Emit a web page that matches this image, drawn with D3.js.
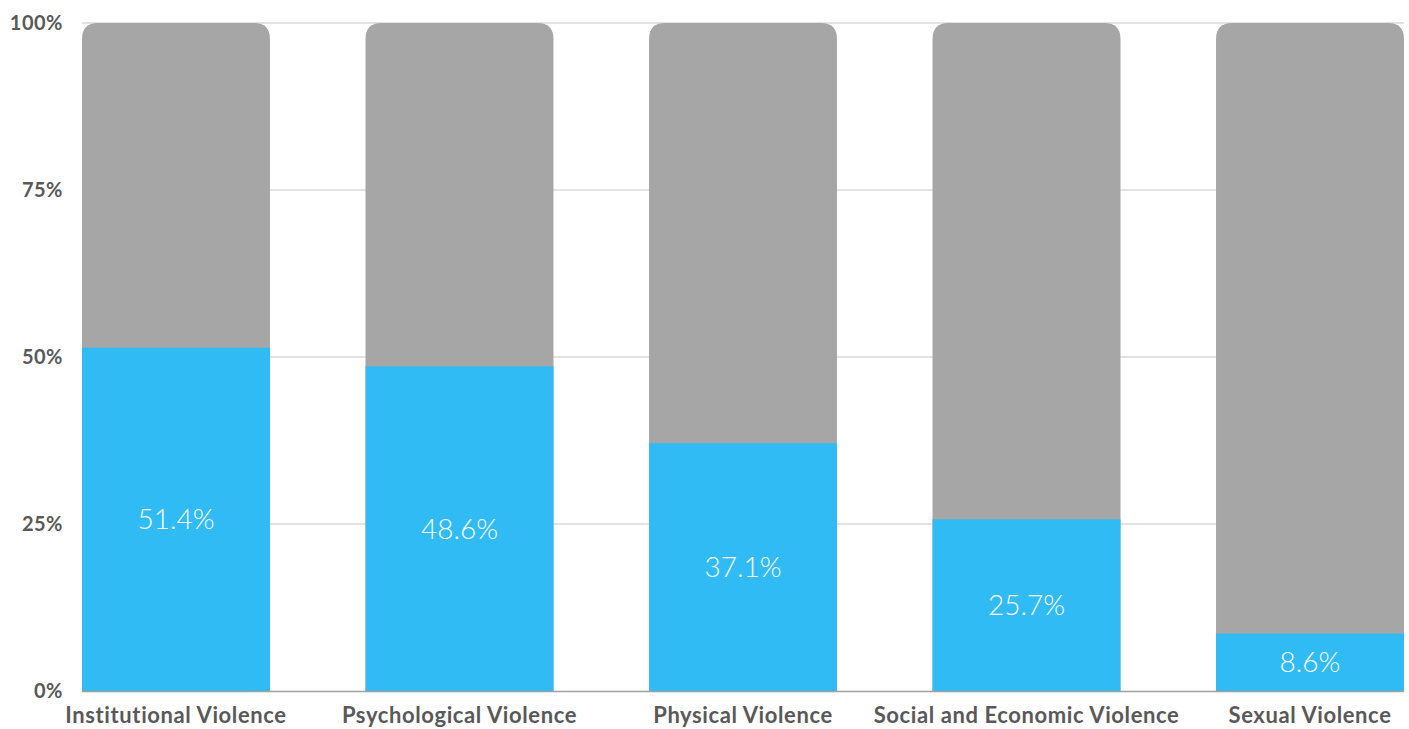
<!DOCTYPE html>
<html>
<head>
<meta charset="utf-8">
<script src="https://cdn.jsdelivr.net/npm/d3@7"></script>
<style>
  body { margin: 0; background: #fff; }
  text { font-family: Lato, "Open Sans", sans-serif; }
</style>
</head>
<body>
<script>
// Data
const categories = ["Institutional Violence", "Psychological Violence", "Physical Violence", "Social and Economic Violence", "Sexual Violence"];
const values = [51.4, 48.6, 37.1, 25.7, 8.6];
const yTicks = [0, 25, 50, 75, 100];

// Canvas setup
const canvasWidth = 1409;
const canvasHeight = 729;

const svg = d3.select('body')
    .append('svg')
    .attr('width', canvasWidth)
    .attr('height', canvasHeight);

const plotLeft = 82, plotRight = 1404, plotTop = 23, plotBottom = 691;

let xScale = d3.scaleBand()
    .domain(categories)
    .range([plotLeft, plotRight])
    .paddingInner(0.337)
    .paddingOuter(0);

let yScale = d3.scaleLinear()
    .domain([0, 100])
    .range([plotBottom, plotTop]);

// gridlines
svg.append('g')
    .selectAll('line')
    .data(yTicks.filter(t => t > 0))
    .join('line')
    .attr('x1', plotLeft)
    .attr('x2', plotRight)
    .attr('y1', d => yScale(d))
    .attr('y2', d => yScale(d))
    .attr('stroke', '#d9d9d9')
    .attr('stroke-width', 1.5);

// y tick labels
svg.append('g')
    .selectAll('text')
    .data(yTicks)
    .join('text')
    .attr('x', 63)
    .attr('y', d => yScale(d) + 7)
    .attr('text-anchor', 'end')
    .attr('font-size', 20)
    .attr('font-weight', 'bold')
    .attr('letter-spacing', 0.5)
    .attr('fill', '#595959')
    .text(d => d + '%');

// grey bars (100%) with rounded top corners
const r = 16;
function topRounded(x, y, w, h) {
    return `M${x},${y + h} V${y + r} Q${x},${y} ${x + r},${y} H${x + w - r} Q${x + w},${y} ${x + w},${y + r} V${y + h} Z`;
}
svg.append('g')
    .selectAll('path')
    .data(categories)
    .join('path')
    .attr('d', d => topRounded(xScale(d), yScale(100), xScale.bandwidth(), yScale(0) - yScale(100)))
    .attr('fill', '#a6a6a6');

// blue bars
svg.append('g')
    .selectAll('rect')
    .data(values)
    .join('rect')
    .attr('x', (d, i) => xScale(categories[i]))
    .attr('y', d => yScale(d))
    .attr('width', xScale.bandwidth())
    .attr('height', d => yScale(0) - yScale(d))
    .attr('fill', '#31bbf5');

// baseline
svg.append('line')
    .attr('x1', plotLeft)
    .attr('x2', plotRight)
    .attr('y1', yScale(0) + 0.5)
    .attr('y2', yScale(0) + 0.5)
    .attr('stroke', '#a0a0a0')
    .attr('stroke-width', 1.5);

// value labels
svg.append('g')
    .selectAll('text')
    .data(values)
    .join('text')
    .attr('x', (d, i) => xScale(categories[i]) + xScale.bandwidth() / 2)
    .attr('y', d => (yScale(d) + yScale(0)) / 2 + 10)
    .attr('text-anchor', 'middle')
    .attr('font-size', 28)
    .attr('font-weight', 300)
    .attr('fill', '#ffffff')
    .text(d => d.toFixed(1) + '%');

// category labels
svg.append('g')
    .selectAll('text')
    .data(categories)
    .join('text')
    .attr('x', d => xScale(d) + xScale.bandwidth() / 2)
    .attr('y', 723)
    .attr('text-anchor', 'middle')
    .attr('font-size', 22)
    .attr('font-weight', 'bold')
    .attr('letter-spacing', 0.6)
    .attr('fill', '#595959')
    .text(d => d);
</script>
</body>
</html>
